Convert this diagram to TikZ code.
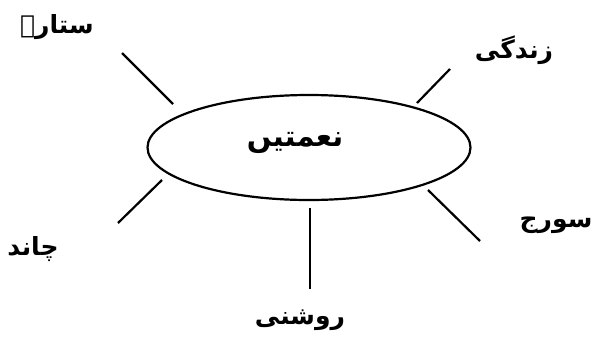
\documentclass[tikz,border=0pt]{standalone}
\usepackage{fontspec}
\usetikzlibrary{shapes.geometric}
\TeXXeTstate=1
\newfontfamily\urdufont[Script=Arabic]{DejaVu Sans}
\tikzset{spoke/.style={line width=2.2pt},
 lbl/.style={font=\urdufont\bfseries\fontsize{25}{30}\selectfont,inner sep=0pt},
 hub/.style={draw,ellipse,line width=2.2pt,minimum width=323pt,minimum height=105pt,inner sep=0pt}}

\begin{document}
\begin{tikzpicture}[x=1pt,y=-1pt]
\useasboundingbox (0,0) rectangle (598,354);
\node[hub] (nm) at (309,147.5) {};
\node[lbl,font=\urdufont\bfseries\fontsize{29}{34}\selectfont] (nmt) at (295,143) {\beginR نعمتیں\endR};
\node[lbl] (st) at (57,27) {\beginR ستارے\endR};
\node[lbl] (zn) at (514,50) {\beginR زندگی\endR};
\node[lbl] (ch) at (33,249) {\beginR چاند\endR};
\node[lbl] (sr) at (556,225) {\beginR سورج\endR};
\node[lbl] (rs) at (300,320) {\beginR روشنی\endR};
% spoke ends
\coordinate (a1) at (122,53);  \coordinate (b1) at (173,104);
\coordinate (a2) at (450,69);  \coordinate (b2) at (417,103);
\coordinate (a3) at (118,223); \coordinate (b3) at (162,180);
\coordinate (a4) at (480,241); \coordinate (b4) at (428,190);
\coordinate (a5) at (310,289); \coordinate (b5) at (310,208);
\foreach \i in {1,...,5}{\draw[spoke] (a\i)--(b\i);}
\end{tikzpicture}
\end{document}
